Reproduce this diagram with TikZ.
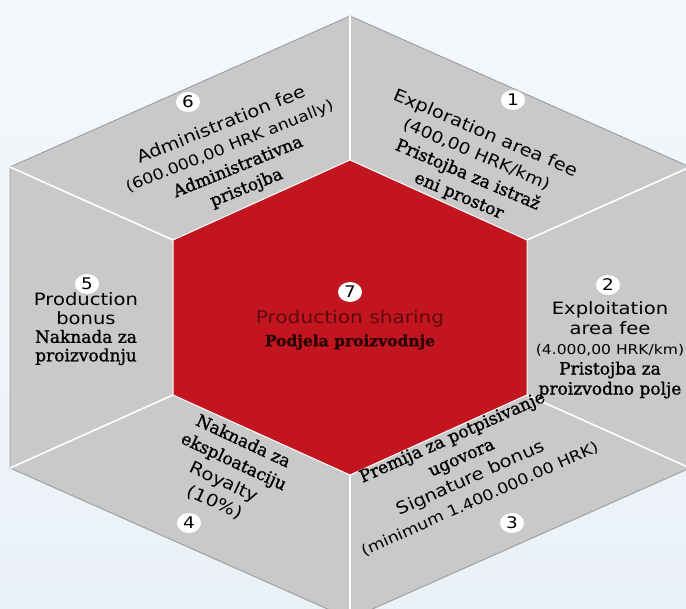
\documentclass[tikz,border=0pt]{standalone}
\usepackage{fontspec}
\usetikzlibrary{shapes.geometric}
\newfontfamily\ensf[FakeStretch=1.15]{DejaVu Sans}
\newfontfamily\hrsf[FakeBold=1.2]{DejaVu Serif}
\definecolor{bgtop}{HTML}{F4F8FC}
\definecolor{bgbot}{HTML}{EAF1F7}
\definecolor{segc}{HTML}{C9C9C9}
\definecolor{redc}{HTML}{C3151F}
\definecolor{edgec}{HTML}{9C9C9C}
\definecolor{psc}{HTML}{5E0A10}
\definecolor{pdc}{HTML}{2A0505}
\begin{document}
\begin{tikzpicture}[x=1pt,y=-1pt,
  blk/.style={align=center, inner sep=0pt, text=black, font=\fontsize{17}{22.5}\selectfont},
  numc/.style={ellipse, fill=white, minimum width=24pt, minimum height=20pt, inner sep=0pt, text=black, font=\ensf\fontsize{16}{16}\selectfont},
  divider/.style={draw=white, line width=1.6pt}]
\useasboundingbox (0,0) rectangle (686,609);
\clip (0,0) rectangle (686,609);
\shade[top color=bgtop, bottom color=bgbot] (0,0) rectangle (686,609);
% outer hexagon
\coordinate (oT) at (350,16);
\coordinate (oUR) at (690,167);
\coordinate (oLR) at (690,468);
\coordinate (oB) at (350,619);
\coordinate (oLL) at (10,468);
\coordinate (oUL) at (10,167);
% inner hexagon
\coordinate (iT) at (350,160);
\coordinate (iUR) at (527,240);
\coordinate (iLR) at (527,395);
\coordinate (iB) at (350,475);
\coordinate (iLL) at (173,395);
\coordinate (iUL) at (173,240);
\filldraw[fill=segc, draw=edgec, line width=0.9pt] (oT)--(oUR)--(oLR)--(oB)--(oLL)--(oUL)--cycle;
\fill[redc] (iT)--(iUR)--(iLR)--(iB)--(iLL)--(iUL)--cycle;
\draw[divider] (iT)--(oT) (iUR)--(oUR) (iLR)--(oLR) (iB)--(oB) (iLL)--(oLL) (iUL)--(oUL);
\draw[white, line width=1pt] (iT)--(iUR)--(iLR)--(iB)--(iLL)--(iUL)--cycle;
% numbers
\node[numc] (n1) at (513,100) {1};
\node[numc] (n2) at (608,285) {2};
\node[numc] (n3) at (512,523) {3};
\node[numc] (n4) at (189,523) {4};
\node[numc] (n5) at (87,284) {5};
\node[numc] (n6) at (188,102) {6};
\node[numc] (n7) at (350,292) {7};
% segment texts
\node[blk, rotate=-23] (t1) at (472,165) {{\ensf Exploration area fee}\\{\ensf\fontsize{16}{22.5}\selectfont (400,00 HRK/km)}\\{\hrsf Pristojba za istraž}\\{\hrsf eni prostor}};
\node[blk, font=\fontsize{17}{20}\selectfont] (t2) at (610,350) {{\ensf Exploitation}\\{\ensf area fee}\\{\ensf\fontsize{13.5}{20}\selectfont (4.000,00 HRK/km)}\\{\hrsf Pristojba za}\\{\hrsf proizvodno polje}};
\node[blk, rotate=24] (t3) at (466,468) {{\hrsf Premija za potpisivanje}\\{\hrsf ugovora}\\{\ensf Signature bonus}\\{\ensf\fontsize{15}{22.5}\selectfont (minimum 1.400.000.00 HRK)}};
\node[blk, rotate=-25] (t4) at (229,472) {{\hrsf Naknada za}\\{\hrsf eksploataciju}\\{\ensf Royalty}\\{\ensf (10\%)}};
\node[blk, font=\fontsize{17}{18.5}\selectfont] (t5) at (86,329) {{\ensf Production}\\{\ensf bonus}\\{\hrsf Naknada za}\\{\hrsf proizvodnju}};
\node[blk, rotate=22] (t6) at (234,157) {{\ensf Administration fee}\\{\ensf\fontsize{15}{22.5}\selectfont (600.000,00 HRK anually)}\\{\hrsf Administrativna}\\{\hrsf pristojba}};
\node[inner sep=0pt, text=psc, font=\ensf\fontsize{17.5}{20}\selectfont] (t7a) at (350,319) {Production sharing};
\node[inner sep=0pt, text=pdc, font=\hrsf\bfseries\fontsize{15.5}{20}\selectfont] (t7b) at (350,342) {Podjela proizvodnje};
\end{tikzpicture}
\end{document}
